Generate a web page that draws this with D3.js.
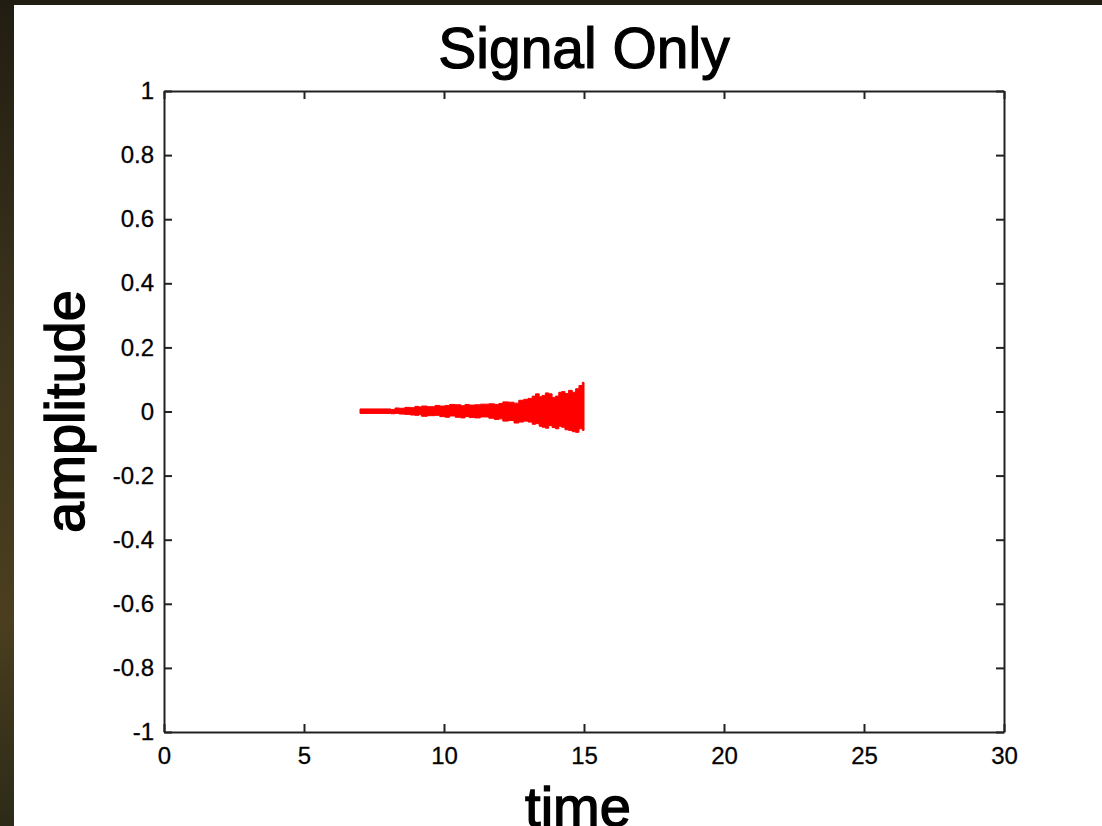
<!DOCTYPE html>
<html>
<head>
<meta charset="utf-8">
<script src="https://cdn.jsdelivr.net/npm/d3@7"></script>
<style>
    body { margin: 0; background: #2a2416; }
    text { font-family: "Liberation Sans", Arial, sans-serif; fill: #000; }
</style>
</head>
<body>
<div id="container"></div>
<script>
/* CONSTANTS AND GLOBALS */
const width = 1102;
const height = 826;
const margin = { top: 91, right: 98, bottom: 94, left: 164 };

/* DATA */
const xTicks = [0, 5, 10, 15, 20, 25, 30];
const yTicks = [-1, -0.8, -0.6, -0.4, -0.2, 0, 0.2, 0.4, 0.6, 0.8, 1];
const yTickLabels = ["-1", "-0.8", "-0.6", "-0.4", "-0.2", "0", "0.2", "0.4", "0.6", "0.8", "1"];

// signal envelope (time, upper and lower edge)
const sigTime = [7.0, 7.5, 8.0, 8.1, 8.25, 8.4, 8.6, 8.8, 8.96, 9.1, 9.2, 9.4, 9.68, 9.85, 10.04, 10.2, 10.4, 10.6, 10.75, 10.9, 11.1, 11.3, 11.6, 11.8, 11.96, 12.1, 12.3, 12.5, 12.67, 12.85, 13.0, 13.15, 13.27, 13.4, 13.5, 13.62, 13.74, 13.86, 13.98, 14.1, 14.2, 14.32, 14.45, 14.58, 14.7, 14.82, 14.94, 15.0];
const sigUpper = [0.008, 0.008, 0.008, 0.006, 0.011, 0.010, 0.013, 0.012, 0.016, 0.014, 0.017, 0.015, 0.019, 0.017, 0.019, 0.022, 0.021, 0.018, 0.022, 0.020, 0.021, 0.023, 0.024, 0.022, 0.025, 0.030, 0.029, 0.026, 0.035, 0.038, 0.041, 0.048, 0.055, 0.046, 0.050, 0.058, 0.055, 0.044, 0.048, 0.060, 0.062, 0.056, 0.066, 0.060, 0.071, 0.081, 0.091, 0.085];
const sigLower = [-0.006, -0.006, -0.006, -0.007, -0.006, -0.008, -0.009, -0.011, -0.012, -0.010, -0.015, -0.013, -0.012, -0.016, -0.018, -0.014, -0.018, -0.020, -0.016, -0.019, -0.020, -0.017, -0.021, -0.025, -0.023, -0.030, -0.028, -0.036, -0.033, -0.030, -0.033, -0.040, -0.038, -0.046, -0.049, -0.052, -0.044, -0.050, -0.054, -0.046, -0.049, -0.057, -0.059, -0.063, -0.065, -0.054, -0.059, -0.058];

const signal = sigTime.map((t, i) => ({ t: t, hi: sigUpper[i], lo: sigLower[i] }));

/* HTML ELEMENTS */
const svg = d3.select("#container")
    .append("svg")
    .attr("width", width)
    .attr("height", height)

// dark photo-like backdrop, then the white figure panel
const defs = svg.append("defs")
const grad = defs.append("linearGradient")
    .attr("id", "bg")
    .attr("x1", 0).attr("y1", 0).attr("x2", 0).attr("y2", 1)
grad.append("stop").attr("offset", "0%").attr("stop-color", "#221d12")
grad.append("stop").attr("offset", "40%").attr("stop-color", "#3b331c")
grad.append("stop").attr("offset", "75%").attr("stop-color", "#4a3e1e")
grad.append("stop").attr("offset", "100%").attr("stop-color", "#2c2a18")

svg.append("rect")
    .attr("width", width)
    .attr("height", height)
    .attr("fill", "url(#bg)")

svg.append("rect")
    .attr("x", 14)
    .attr("y", 5)
    .attr("width", width - 14)
    .attr("height", height - 5)
    .attr("fill", "#fff")

/* SCALES */
const xScale = d3.scaleLinear()
    .domain([0, 30])
    .range([margin.left, width - margin.right])

const yScale = d3.scaleLinear()
    .domain([-1, 1])
    .range([height - margin.bottom, margin.top])

/* SIGNAL */
const area = d3.area()
    .x(d => xScale(d.t))
    .y0(d => yScale(d.lo))
    .y1(d => yScale(d.hi))
    .curve(d3.curveStepAfter)

svg.append("path")
    .datum(signal)
    .attr("d", area)
    .attr("fill", "#ff0000")
    .attr("stroke", "#ff0000")
    .attr("stroke-width", 1)

/* AXES */
const axisColor = "#222"
const tickLen = 8

// bottom
const xAxis = d3.axisBottom(xScale)
    .tickValues(xTicks)
    .tickSizeInner(-tickLen)
    .tickSizeOuter(0)
    .tickPadding(15)
    .tickFormat(d => String(d))
svg.append("g")
    .attr("class", "axis")
    .attr("transform", `translate(0,${height - margin.bottom})`)
    .call(xAxis)

// top (ticks only)
svg.append("g")
    .attr("class", "axis")
    .attr("transform", `translate(0,${margin.top})`)
    .call(d3.axisTop(xScale).tickValues(xTicks).tickSizeInner(-tickLen).tickSizeOuter(0).tickFormat(""))

// left
const yAxis = d3.axisLeft(yScale)
    .tickValues(yTicks)
    .tickSizeInner(-tickLen)
    .tickSizeOuter(0)
    .tickPadding(10)
    .tickFormat((d, i) => yTickLabels[i])
svg.append("g")
    .attr("class", "axis")
    .attr("transform", `translate(${margin.left},0)`)
    .call(yAxis)

// right (ticks only)
svg.append("g")
    .attr("class", "axis")
    .attr("transform", `translate(${width - margin.right},0)`)
    .call(d3.axisRight(yScale).tickValues(yTicks).tickSizeInner(-tickLen).tickSizeOuter(0).tickFormat(""))

svg.selectAll(".axis path, .axis line")
    .attr("stroke", axisColor)
    .attr("stroke-width", 2)
svg.selectAll(".axis text")
    .style("font-size", "24px")
    .attr("fill", "#111")
    .attr("stroke", "#111")
    .attr("stroke-width", 0.3)

/* TITLE AND LABELS */
svg.append("text")
    .attr("x", 584)
    .attr("y", 68)
    .attr("text-anchor", "middle")
    .style("font-size", "57px")
    .attr("stroke", "#000")
    .attr("stroke-width", 1.2)
    .text("Signal Only")

svg.append("text")
    .attr("transform", `translate(84,${(margin.top + height - margin.bottom) / 2}) rotate(-90)`)
    .attr("text-anchor", "middle")
    .style("font-size", "56px")
    .attr("stroke", "#000")
    .attr("stroke-width", 1.4)
    .text("amplitude")

svg.append("text")
    .attr("x", 578)
    .attr("y", 826)
    .attr("text-anchor", "middle")
    .style("font-size", "56px")
    .attr("stroke", "#000")
    .attr("stroke-width", 1.4)
    .text("time")
</script>
</body>
</html>
